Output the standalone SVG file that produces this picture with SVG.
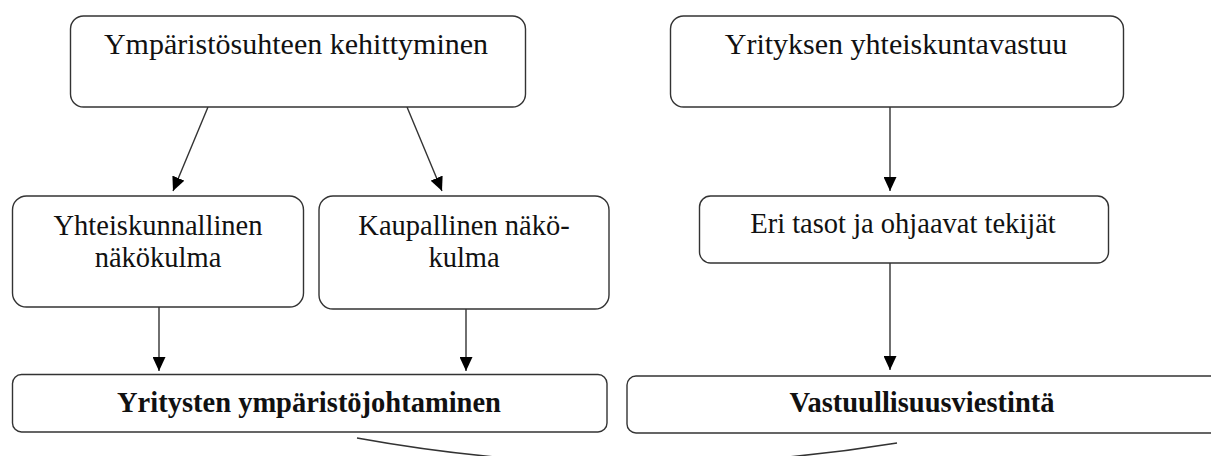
<svg xmlns="http://www.w3.org/2000/svg" width="1211" height="456" viewBox="0 0 1211 456">
<style>
.box{fill:#fff;stroke:#333;stroke-width:1.4}
.t{font-family:"Liberation Serif","Times New Roman",serif;font-size:28.5px;fill:#111;text-anchor:middle}
.lg{font-size:30px}
.b{font-weight:bold}
.c{fill:none;stroke:#333;stroke-width:1.4}
</style>
<defs>
<marker id="ah" markerUnits="userSpaceOnUse" markerWidth="15" markerHeight="13" refX="14" refY="6.5" orient="auto">
<path d="M0,0 L14,6.5 L0,13 z" fill="#000"/>
</marker>
</defs>
<rect width="1211" height="456" fill="#fff"/>
<g id="connectors">
<line class="c" x1="208" y1="107" x2="173" y2="191" marker-end="url(#ah)"/>
<line class="c" x1="407" y1="107" x2="442" y2="191" marker-end="url(#ah)"/>
<line class="c" x1="890" y1="107" x2="890" y2="191" marker-end="url(#ah)"/>
<line class="c" x1="159" y1="307" x2="159" y2="371" marker-end="url(#ah)"/>
<line class="c" x1="466" y1="309" x2="466" y2="371" marker-end="url(#ah)"/>
<line class="c" x1="890" y1="263" x2="890" y2="370" marker-end="url(#ah)"/>
<path class="c" d="M357,438 Q627,487 897,443"/>
</g>
<g id="n1">
<rect class="box" x="70.5" y="16" width="455" height="91" rx="13"/>
<text class="t lg" x="296" y="54">Ympäristösuhteen kehittyminen</text>
</g>
<g id="n2">
<rect class="box" x="670.5" y="16" width="453" height="91" rx="13"/>
<text class="t lg" x="896" y="54">Yrityksen yhteiskuntavastuu</text>
</g>
<g id="n3">
<rect class="box" x="12.5" y="196" width="291" height="111" rx="14"/>
<text class="t" x="158" y="235">Yhteiskunnallinen</text>
<text class="t" x="158" y="267">näkökulma</text>
</g>
<g id="n4">
<rect class="box" x="319" y="196" width="290" height="113" rx="14"/>
<text class="t" x="464" y="235">Kaupallinen näkö-</text>
<text class="t" x="464" y="267">kulma</text>
</g>
<g id="n5">
<rect class="box" x="699.5" y="196" width="409" height="67" rx="11"/>
<text class="t" x="903" y="233">Eri tasot ja ohjaavat tekijät</text>
</g>
<g id="n6">
<rect class="box" x="12.5" y="374.5" width="594.5" height="57.5" rx="9"/>
<text class="t b" x="309" y="412">Yritysten ympäristöjohtaminen</text>
</g>
<g id="n7">
<rect class="box" x="627" y="376" width="592" height="57" rx="9"/>
<text class="t b" x="922" y="412">Vastuullisuusviestintä</text>
</g>
</svg>
